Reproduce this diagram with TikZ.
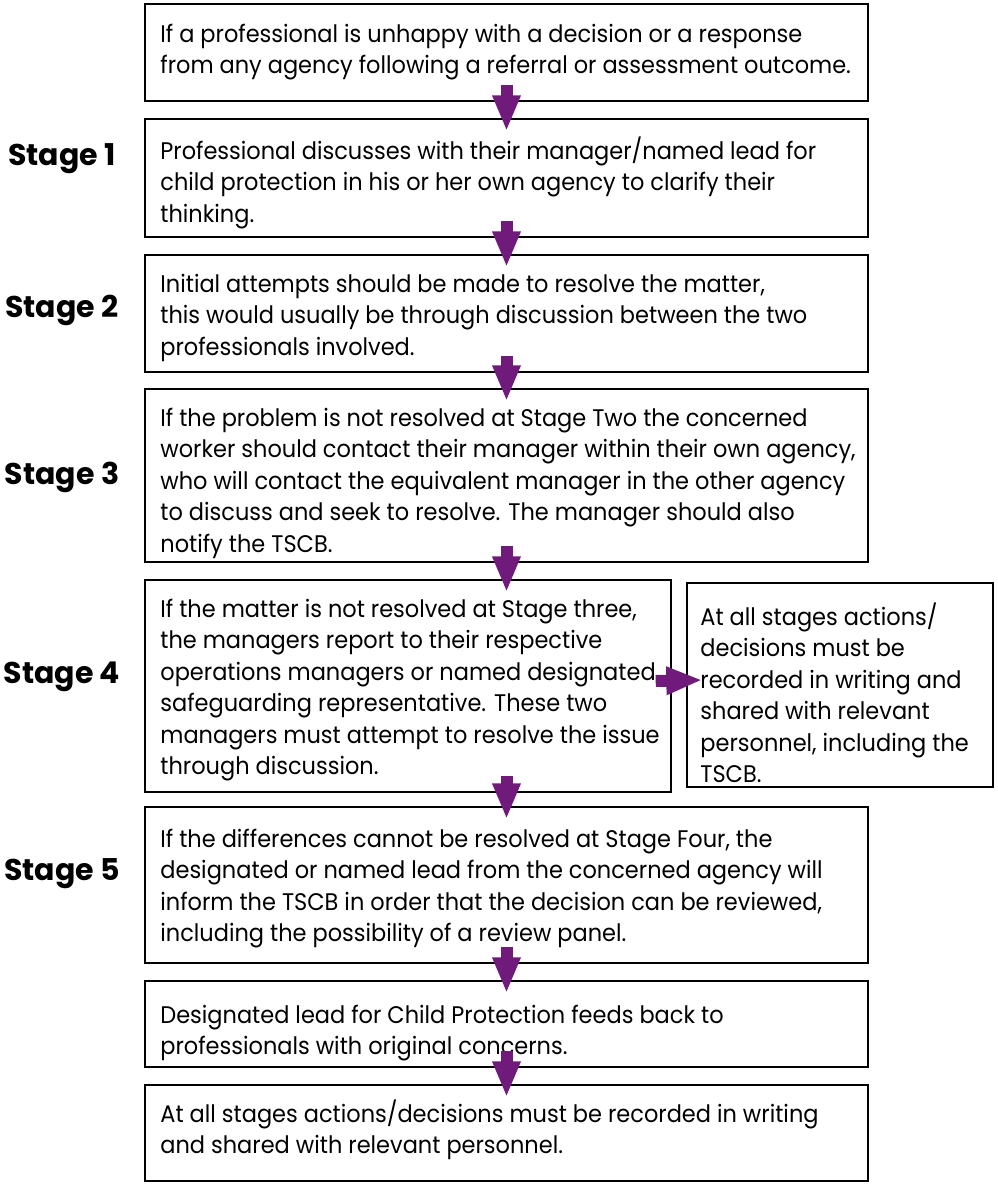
\documentclass[tikz,border=0pt]{standalone}
\usepackage{fontspec}
\setmainfont{Poppins}[FakeStretch=0.936]
\newfontfamily\stagefont{Poppins}
\usetikzlibrary{arrows.meta,fit}
\definecolor{plum}{RGB}{112,26,124}

\begin{document}
\begin{tikzpicture}[x=0.5pt,y=-0.5pt,
    box/.style={draw, line width=0.7pt, inner sep=0pt},
    txt/.style={anchor=base west, align=left, inner sep=0pt, font=\fontsize{12}{15.75}\selectfont},
    stage/.style={anchor=base, inner sep=0pt, font=\stagefont\fontsize{15}{17}\selectfont\bfseries},
    flow/.style={plum, line width=6pt, -{Triangle[length=18pt,width=13pt]}}]
    \useasboundingbox (0,0) rectangle (997,1184);

    % boxes
    \node[box, fit={(145,4) (868,101)}] (b0) {};
    \node[box, fit={(145,119) (868,237)}] (b1) {};
    \node[box, fit={(145,255) (868,372)}] (b2) {};
    \node[box, fit={(145,389) (868,562)}] (b3) {};
    \node[box, fit={(145,580) (671,792)}] (b4) {};
    \node[box, fit={(687,583) (993,787)}] (s4) {};
    \node[box, fit={(145,807) (868,963)}] (b5) {};
    \node[box, fit={(145,981) (868,1067)}] (b6) {};
    \node[box, fit={(145,1085) (868,1181)}] (b7) {};

    % texts (placed at the baseline of their last line)
    \node[txt] (t0) at (160,73.5) {If a professional is unhappy with a decision or a response\\from any agency following a referral or assessment outcome.};
    \node[txt] (t1) at (160,222) {Professional discusses with their manager/named lead for\\child protection in his or her own agency to clarify their\\thinking.};
    \node[txt] (t2) at (160,355) {Initial attempts should be made to resolve the matter,\\this would usually be through discussion between the two\\professionals involved.};
    \node[txt] (t3) at (160,552) {If the problem is not resolved at Stage Two the concerned\\worker should contact their manager within their own agency,\\who will contact the equivalent manager in the other agency\\to discuss and seek to resolve. The manager should also\\notify the TSCB.};
    \node[txt] (t4) at (160,774.5) {If the matter is not resolved at Stage three,\\the managers report to their respective\\operations managers or named designated\\safeguarding representative. These two\\managers must attempt to resolve the issue\\through discussion.};
    \node[txt] (ts) at (700,782.5) {At all stages actions/\\decisions must be\\recorded in writing and\\shared with relevant\\personnel, including the\\TSCB.};
    \node[txt] (t5) at (160,941.5) {If the differences cannot be resolved at Stage Four, the\\designated or named lead from the concerned agency will\\inform the TSCB in order that the decision can be reviewed,\\including the possibility of a review panel.};
    \node[txt] (t6) at (160,1054.5) {Designated lead for Child Protection feeds back to\\professionals with original concerns.};
    \node[txt] (t7) at (160,1153.5) {At all stages actions/decisions must be recorded in writing\\and shared with relevant personnel.};

    % stage labels
    \node[stage] (st1) at (62,165) {Stage 1};
    \node[stage] (st2) at (62,317) {Stage 2};
    \node[stage] (st3) at (62,484) {Stage 3};
    \node[stage] (st4) at (62,683) {Stage 4};
    \node[stage] (st5) at (62,880) {Stage 5};

    % arrows
    \coordinate (a4) at (b5.north |- b4.south);
    \draw[flow] ([yshift=8.5pt]b0.south) -- ([yshift=-6.5pt]b1.north);
    \draw[flow] ([yshift=8.5pt]b1.south) -- ([yshift=-6.5pt]b2.north);
    \draw[flow] ([yshift=8.5pt]b2.south) -- ([yshift=-6.5pt]b3.north);
    \draw[flow] ([yshift=8.5pt]b3.south) -- ([yshift=-6.5pt]b4.north -| b3.south);
    \draw[flow] ([yshift=8.5pt]a4) -- ([yshift=-6.5pt]b5.north);
    \draw[flow] ([yshift=8.5pt]b5.south) -- ([yshift=-6.5pt]b6.north);
    \draw[flow] ([yshift=8.5pt]b6.south) -- ([yshift=-6.5pt]b7.north);
    \draw[flow] ([xshift=-8pt,yshift=2.5pt]b4.east) -- ([xshift=8pt,yshift=2.5pt]s4.west);
\end{tikzpicture}
\end{document}
